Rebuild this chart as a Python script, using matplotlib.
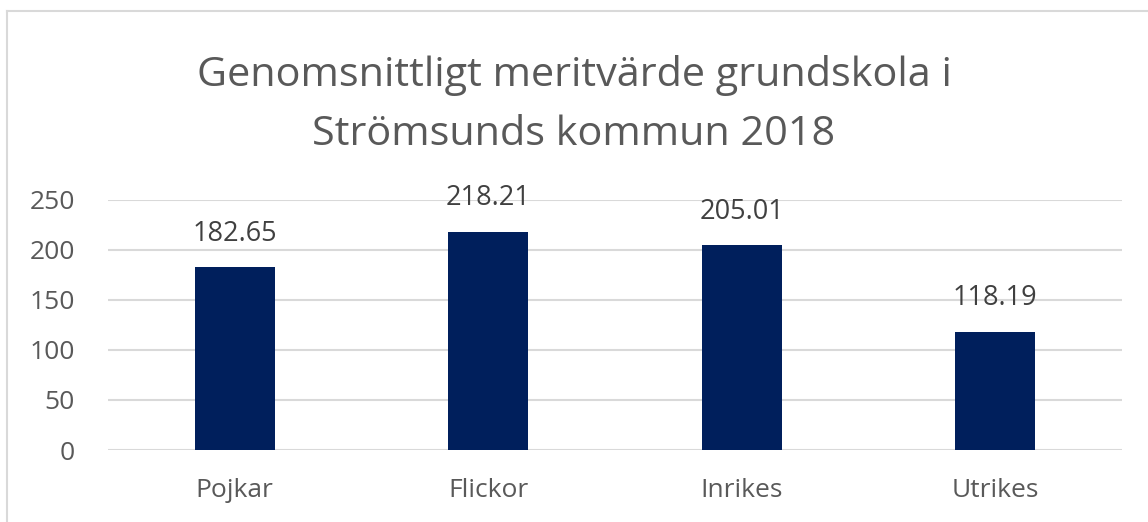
import matplotlib.pyplot as plt
from matplotlib.lines import Line2D

# data
kategorier = ['Pojkar', 'Flickor', 'Inrikes', 'Utrikes']
meritvarde = [182.65, 218.21, 205.01, 118.19]
yticks = [0, 50, 100, 150, 200, 250]

textfarg = '#595959'
plt.rcParams['font.family'] = ['Open Sans', 'DejaVu Sans']

W, H = 1148, 522
fig = plt.figure(figsize=(W / 100, H / 100), dpi=100)
ax = fig.add_axes([108 / W, 1 - 450 / H, (1122 - 108) / W, 250 / H])

x = range(len(kategorier))
staplar = ax.bar(x, meritvarde, width=0.316, color='#001F5C', zorder=3)
for xi, v in zip(x, meritvarde):
    ax.annotate(f'{v:.2f}', (xi, v), xytext=(0, 14), textcoords='offset points',
                ha='center', va='bottom', fontsize=19.5, color='#404040')

ax.set_xlim(-0.5, len(kategorier) - 0.5)
ax.set_ylim(0, 250)
ax.set_yticks(yticks)
ax.set_xticks(list(x))
ax.set_xticklabels(kategorier)
ax.tick_params(axis='both', length=0, labelsize=19, labelcolor=textfarg)
ax.tick_params(axis='y', pad=24)
ax.tick_params(axis='x', pad=20)
ax.grid(axis='y', color='#d9d9d9', linewidth=1.5, zorder=0)
for s in ax.spines.values():
    s.set_visible(False)

fig.text(0.5, 1 - 75 / H, 'Genomsnittligt meritvärde grundskola i', ha='center', va='center',
         fontsize=29.8, color=textfarg)
fig.text(0.5, 1 - 135 / H, 'Strömsunds kommun 2018', ha='center', va='center',
         fontsize=29.8, color=textfarg)

# ram runt diagrammet (bara vänster och överkant syns)
fig.add_artist(Line2D([7 / W, 7 / W], [0, 1 - 11 / H], color='#d9d9d9', linewidth=1.5))
fig.add_artist(Line2D([7 / W, 1], [1 - 11 / H, 1 - 11 / H], color='#d9d9d9', linewidth=1.5))

fig.savefig('out.png', dpi=100)
